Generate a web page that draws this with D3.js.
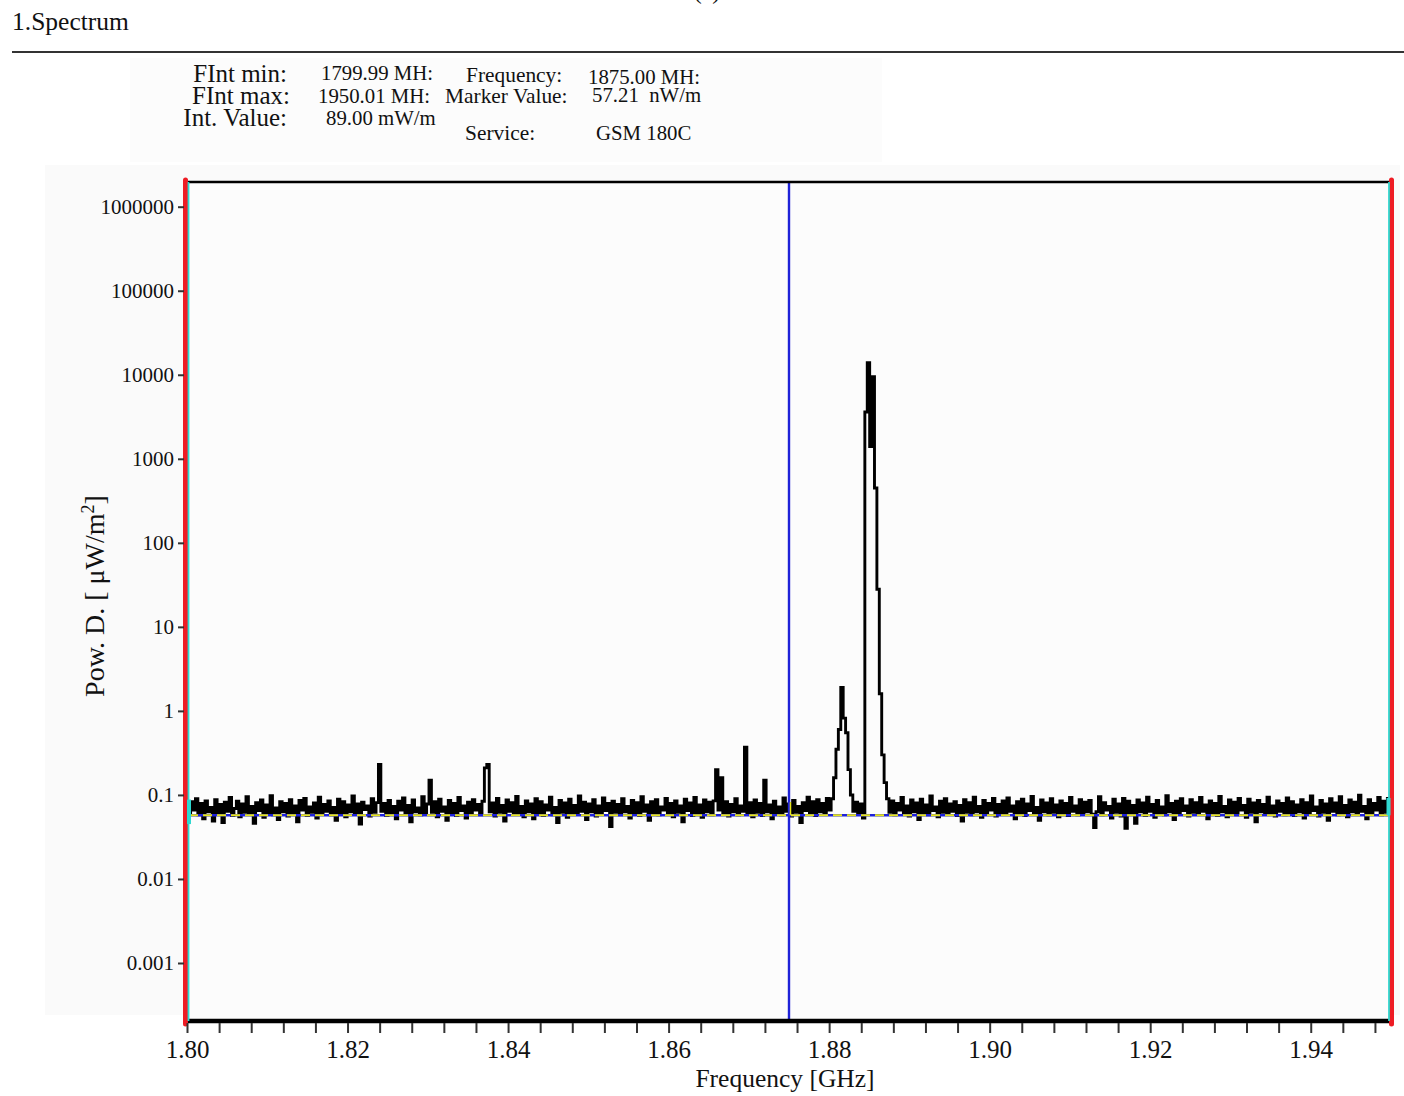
<!DOCTYPE html>
<html>
<head>
<meta charset="utf-8">
<script src="https://cdn.jsdelivr.net/npm/d3@7"></script>
<style>
  body { margin: 0; background: #fff; }
  text { font-family: "Liberation Serif", "Times New Roman", serif; fill: #111; white-space: pre; }
</style>
</head>
<body>
<div id="chart-holder"></div>
<script>
// spectrum samples, µW/m², one every 0.3 MHz from 1.8000 GHz
var freqStart = 1.80;
var freqStep = 0.0003;
var powerDensity = [
  0.074,0.061,0.083,0.066,0.090,0.058,0.079,0.052,0.085,0.063,0.071,0.049,0.088,0.060,0.077,0.047,0.082,0.064,0.093,0.057,
  0.069,0.084,0.055,0.078,0.062,0.095,0.059,0.073,0.046,0.081,0.065,0.087,0.054,0.076,0.061,0.098,0.058,0.070,0.051,0.083,
  0.063,0.079,0.056,0.088,0.060,0.074,0.048,0.086,0.066,0.091,0.057,0.072,0.062,0.080,0.053,0.094,0.059,0.077,0.064,0.085,
  0.058,0.071,0.050,0.089,0.061,0.083,0.055,0.076,0.063,0.097,0.060,0.078,0.045,0.082,0.067,0.074,0.056,0.090,0.062,0.081,
  0.230,0.064,0.079,0.057,0.086,0.061,0.073,0.052,0.084,0.066,0.092,0.059,0.075,0.048,0.087,0.063,0.070,0.058,0.095,0.060,
  0.078,0.150,0.062,0.083,0.055,0.089,0.064,0.072,0.050,0.086,0.061,0.079,0.057,0.093,0.065,0.074,0.053,0.082,0.060,0.088,
  0.066,0.077,0.058,0.084,0.210,0.230,0.063,0.080,0.056,0.091,0.062,0.075,0.049,0.087,0.064,0.081,0.059,0.096,0.061,0.073,
  0.055,0.085,0.063,0.078,0.052,0.090,0.060,0.083,0.057,0.076,0.066,0.094,0.058,0.071,0.047,0.086,0.062,0.080,0.054,0.089,
  0.061,0.075,0.059,0.097,0.064,0.082,0.051,0.078,0.063,0.088,0.056,0.074,0.060,0.092,0.065,0.079,0.042,0.084,0.062,0.077,
  0.058,0.090,0.063,0.073,0.053,0.086,0.060,0.081,0.057,0.095,0.064,0.076,0.050,0.083,0.061,0.088,0.058,0.072,0.066,0.091,
  0.059,0.079,0.055,0.085,0.062,0.074,0.048,0.089,0.065,0.080,0.057,0.093,0.061,0.076,0.054,0.087,0.063,0.082,0.058,0.085,
  0.200,0.066,0.160,0.061,0.083,0.056,0.077,0.063,0.090,0.058,0.074,0.064,0.370,0.060,0.081,0.055,0.087,0.062,0.079,0.057,
  0.150,0.063,0.076,0.052,0.084,0.061,0.072,0.058,0.092,0.064,0.078,0.056,0.086,0.062,0.073,0.047,0.081,0.065,0.094,0.060,
  0.083,0.057,0.088,0.063,0.079,0.059,0.091,0.066,0.090,0.160,0.350,0.600,1.900,0.820,0.550,0.200,0.100,0.064,0.082,0.061,
  0.078,0.053,3600,13900,1400,9500,450,28,1.6,0.30,0.14,0.090,0.062,0.085,0.058,0.079,0.066,0.093,0.060,0.074,
  0.056,0.087,0.063,0.080,0.051,0.089,0.061,0.076,0.058,0.097,0.065,0.072,0.055,0.084,0.062,0.090,0.059,0.078,0.064,0.083,
  0.057,0.075,0.049,0.088,0.062,0.081,0.058,0.094,0.063,0.073,0.054,0.086,0.060,0.079,0.066,0.091,0.056,0.077,0.061,0.085,
  0.059,0.092,0.064,0.074,0.052,0.083,0.060,0.089,0.057,0.078,0.065,0.096,0.061,0.071,0.050,0.087,0.063,0.080,0.058,0.090,
  0.062,0.076,0.055,0.085,0.060,0.079,0.057,0.093,0.064,0.074,0.058,0.088,0.061,0.082,0.063,0.086,0.059,0.041,0.063,0.095,
  0.058,0.081,0.066,0.073,0.053,0.089,0.062,0.078,0.056,0.091,0.040,0.084,0.060,0.075,0.046,0.087,0.063,0.080,0.057,0.094,
  0.064,0.077,0.054,0.086,0.061,0.072,0.058,0.098,0.063,0.079,0.051,0.084,0.060,0.090,0.065,0.074,0.056,0.088,0.062,0.081,
  0.059,0.093,0.064,0.076,0.052,0.085,0.061,0.079,0.057,0.096,0.063,0.073,0.055,0.087,0.060,0.082,0.058,0.091,0.066,0.075,
  0.054,0.089,0.062,0.080,0.048,0.086,0.063,0.077,0.059,0.094,0.061,0.074,0.056,0.085,0.064,0.079,0.058,0.092,0.060,0.083,
  0.057,0.076,0.063,0.088,0.053,0.081,0.060,0.097,0.065,0.072,0.056,0.086,0.062,0.078,0.050,0.090,0.064,0.080,0.058,0.095,
  0.061,0.075,0.055,0.087,0.063,0.082,0.059,0.099,0.064,0.073,0.052,0.088,0.060,0.079,0.066,0.093,0.058,0.084,0.062,0.091,
  0.076
];

var markerFreq = 1.875;     // GHz
var markerValue = 0.05721;  // µW/m²

var xMajorTicks = [1.80, 1.82, 1.84, 1.86, 1.88, 1.90, 1.92, 1.94];
var yTickValues = [0.001, 0.01, 0.1, 1, 10, 100, 1000, 10000, 100000, 1000000];
var yTickLabels = ["0.001", "0.01", "0.1", "1", "10", "100", "1000", "10000", "100000", "1000000"];

var infoLabels = ["FInt min:", "FInt max:", "Int. Value:"];
var infoValues = ["1799.99 MH:", "1950.01 MH:", "89.00 mW/m"];
var markerLabels = ["Frequency:", "Marker Value:", "Service:"];
var markerValues = ["1875.00 MH:", "57.21  nW/m", "GSM 180C"];

var width = 1404, height = 1096;
var svg = d3.select("#chart-holder")
  .append("svg")
  .attr("width", width)
  .attr("height", height);

// plot box (don't call these top/left: window.top is taken)
var pLeft = 187, pRight = 1391, pTop = 182, pBottom = 1021;

var x = d3.scaleLinear().domain([1.80, 1.95]).range([pLeft, pRight]);
var y = d3.scaleLog().domain([2.04e-4, 1.968e6]).range([pBottom, pTop]);

// faint panel backgrounds
svg.append("rect").attr("x", 130).attr("y", 58).attr("width", 752).attr("height", 104).attr("fill", "#fcfcfc");
svg.append("rect").attr("x", 45).attr("y", 165).attr("width", 1355).attr("height", 850).attr("fill", "#fafafa");

// header
svg.append("text").attr("x", 707).attr("y", -1).attr("text-anchor", "middle")
  .style("font-size", "24px").text("(a)");
svg.append("text").attr("x", 12).attr("y", 30).style("font-size", "25.5px").text("1.Spectrum");
svg.append("line").attr("x1", 12).attr("x2", 1404).attr("y1", 52).attr("y2", 52)
  .attr("stroke", "#333").attr("stroke-width", 2);

// info block
var infoY = [82, 104, 126];
svg.selectAll(".info-label").data(infoLabels).enter().append("text")
  .attr("class", "info-label")
  .attr("x", function(d, i) { return i == 1 ? 290 : 287; })
  .attr("y", function(d, i) { return infoY[i]; })
  .attr("text-anchor", "end")
  .style("font-size", "25px")
  .text(function(d) { return d; });

var valX = [321, 318, 326], valY = [80, 103, 125];
svg.selectAll(".info-value").data(infoValues).enter().append("text")
  .attr("class", "info-value")
  .attr("x", function(d, i) { return valX[i]; })
  .attr("y", function(d, i) { return valY[i]; })
  .style("font-size", "20.8px")
  .text(function(d) { return d; });

var mlX = [466, 445, 465], mlY = [82, 103, 140];
svg.selectAll(".marker-label").data(markerLabels).enter().append("text")
  .attr("class", "marker-label")
  .attr("x", function(d, i) { return mlX[i]; })
  .attr("y", function(d, i) { return mlY[i]; })
  .style("font-size", "21.4px")
  .text(function(d) { return d; });

var mvX = [588, 592, 596], mvY = [84, 102, 140];
svg.selectAll(".marker-value").data(markerValues).enter().append("text")
  .attr("class", "marker-value")
  .attr("x", function(d, i) { return mvX[i]; })
  .attr("y", function(d, i) { return mvY[i]; })
  .style("font-size", "20.8px")
  .text(function(d) { return d; });

// plot background
svg.append("rect").attr("x", pLeft).attr("y", pTop)
  .attr("width", pRight - pLeft).attr("height", pBottom - pTop).attr("fill", "#fcfcfc");

svg.append("clipPath").attr("id", "plot-clip")
  .append("rect").attr("x", pLeft).attr("y", pTop)
  .attr("width", pRight - pLeft).attr("height", pBottom - pTop);

var g = svg.append("g").attr("clip-path", "url(#plot-clip)");

// spectrum trace
var line = d3.line()
  .x(function(d, i) { return x(freqStart + i * freqStep); })
  .y(function(d) { return y(d); })
  .curve(d3.curveStep);

g.append("path")
  .datum(powerDensity)
  .attr("d", line)
  .attr("fill", "none")
  .attr("stroke", "#000")
  .attr("stroke-width", 2.9)
  .attr("stroke-linejoin", "miter");

// marker level line (blue + dashed yellow)
g.append("line")
  .attr("x1", pLeft + 2).attr("x2", pRight - 2)
  .attr("y1", y(markerValue)).attr("y2", y(markerValue))
  .attr("stroke", "#1f22d8").attr("stroke-width", 2.4);
g.append("line")
  .attr("x1", pLeft + 2).attr("x2", pRight - 2)
  .attr("y1", y(markerValue)).attr("y2", y(markerValue))
  .attr("stroke", "#e8e61a").attr("stroke-width", 2)
  .attr("stroke-dasharray", "9,5");

// marker frequency line
g.append("line")
  .attr("x1", x(markerFreq)).attr("x2", x(markerFreq))
  .attr("y1", pTop).attr("y2", pBottom)
  .attr("stroke", "#1f22d8").attr("stroke-width", 2.4);
g.append("line")
  .attr("x1", x(markerFreq) + 1.5).attr("x2", x(markerFreq) + 1.5)
  .attr("y1", y(0.082)).attr("y2", y(markerValue))
  .attr("stroke", "#e8e61a").attr("stroke-width", 1.5);

// frame
svg.append("line").attr("x1", pLeft).attr("x2", pRight).attr("y1", pTop).attr("y2", pTop)
  .attr("stroke", "#000").attr("stroke-width", 2.4);
svg.append("line").attr("x1", pLeft).attr("x2", pRight).attr("y1", pBottom).attr("y2", pBottom)
  .attr("stroke", "#000").attr("stroke-width", 4.5);

// band edges: red bars with a cyan inner line
[pLeft - 1.5, pRight + 0.5].forEach(function(px, k) {
  svg.append("line").attr("x1", px).attr("x2", px).attr("y1", pTop - 2).attr("y2", pBottom + 3)
    .attr("stroke", "#ee1c24").attr("stroke-width", 5).attr("stroke-linecap", "round");
  var cx = k == 0 ? px + 3 : px - 2.5;
  svg.append("line").attr("x1", cx).attr("x2", cx).attr("y1", pTop).attr("y2", pBottom)
    .attr("stroke", "#2fd8d0").attr("stroke-width", 1.8);
  svg.append("rect")
    .attr("x", k == 0 ? px + 1.5 : px - 5)
    .attr("y", k == 0 ? y(0.088) : y(0.092))
    .attr("width", 4)
    .attr("height", k == 0 ? y(0.045) - y(0.088) : y(markerValue) - y(0.092))
    .attr("fill", "#2fd8d0");
});

// x axis
var xAxis = d3.axisBottom(x)
  .tickValues(d3.range(0, 38).map(function(i) { return 1.80 + i * 0.004; }))
  .tickSize(10)
  .tickFormat(function(d) {
    var hit = xMajorTicks.filter(function(t) { return Math.abs(t - d) < 1e-6; });
    return hit.length ? d3.format(".2f")(hit[0]) : "";
  });

var gx = svg.append("g").attr("transform", "translate(0," + (pBottom + 2) + ")").call(xAxis);
gx.select(".domain").remove();
gx.selectAll(".tick line").attr("stroke", "#333").attr("stroke-width", 2);
gx.selectAll(".tick text")
  .attr("y", 17)
  .style("font-family", "Liberation Serif, serif")
  .style("font-size", "25px")
  .attr("fill", "#111");

// y axis
var yAxis = d3.axisLeft(y)
  .tickValues(yTickValues)
  .tickSize(6)
  .tickPadding(4)
  .tickFormat(function(d, i) { return yTickLabels[i]; });

var gy = svg.append("g").attr("transform", "translate(" + (pLeft - 3) + ",0)").call(yAxis);
gy.select(".domain").remove();
gy.selectAll(".tick line").attr("stroke", "#333").attr("stroke-width", 2);
gy.selectAll(".tick text")
  .style("font-family", "Liberation Serif, serif")
  .style("font-size", "21px")
  .attr("fill", "#111");

// axis titles
svg.append("text")
  .attr("x", (pLeft + pRight) / 2 - 4).attr("y", 1087)
  .attr("text-anchor", "middle")
  .style("font-size", "25.5px")
  .text("Frequency [GHz]");

var yt = svg.append("text")
  .attr("transform", "translate(104,596) rotate(-90)")
  .attr("text-anchor", "middle")
  .style("font-size", "28px");
yt.append("tspan").text("Pow. D. [ \u03bcW/m");
yt.append("tspan").attr("dy", -10).style("font-size", "18px").text("2");
yt.append("tspan").attr("dy", 10).text("]");
</script>
</body>
</html>
